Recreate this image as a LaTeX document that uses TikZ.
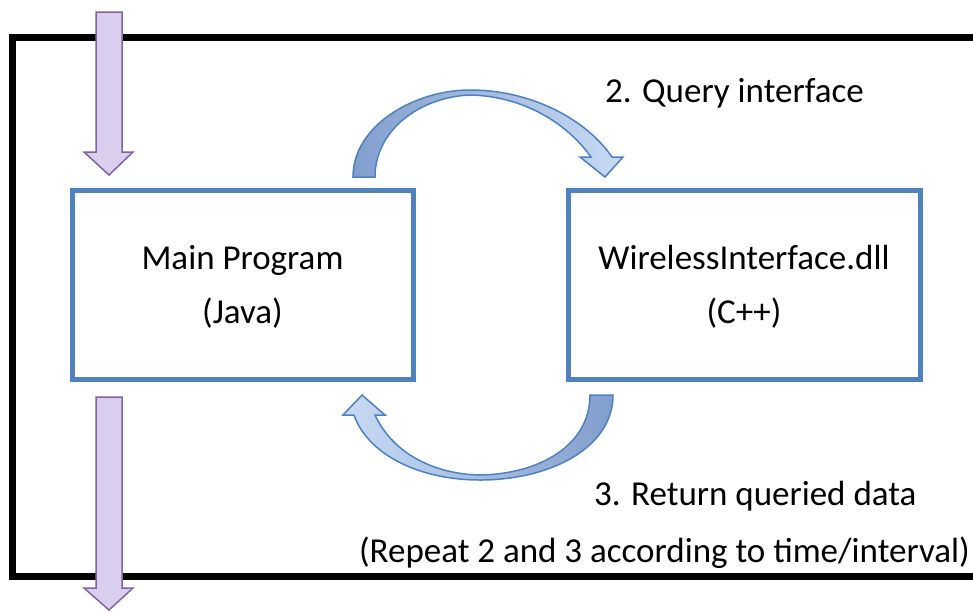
\documentclass[tikz,border=0pt]{standalone}
\usepackage{fontspec}
\setmainfont{Carlito}
\usepackage{xcolor}
\usetikzlibrary{arrows.meta, positioning, calc}

\definecolor{boxblue}{RGB}{79,129,189}
\definecolor{darkarc}{RGB}{130,158,205}
\definecolor{lightarc}{RGB}{200,219,245}
\definecolor{purpleline}{RGB}{128,100,162}
\definecolor{purplefill}{RGB}{218,206,238}

\begin{document}
\begin{tikzpicture}[
    x=0.5pt, y=-0.5pt,
    module/.style={rectangle, draw=boxblue, line width=2.5pt, fill=white, minimum height=94.5pt, text height=42pt, text depth=3.1pt, align=center, font=\fontsize{17.5}{27}\selectfont},
    caption/.style={anchor=west, font=\fontsize{17.5}{21}\selectfont},
    flow/.style={draw=purpleline, line width=0.75pt, fill=purplefill, line join=miter},
    callarc/.style={draw=boxblue, line width=0.75pt}
]
    \useasboundingbox (0,0) rectangle (973,612);
    \clip (0,0) rectangle (973,612);

    % outer frame
    \draw[line width=3.5pt] (1010,37) -- (12,37) -- (12,576) -- (1010,576);

    % modules
    \node[module, minimum width=170.5pt] (main) at (242.5,284.5) {Main Program\\(Java)};
    \node[module, minimum width=176pt] (dll) at (744,284.5) {WirelessInterface.dll\\(C++)};

    % query arc
    \path[callarc, left color=darkarc, right color=lightarc]
        (353,177) .. controls (353,125) and (415,90) .. (470,90)
        .. controls (530,90) and (585,118) .. (612,157)
        -- (623,157) -- (605,177) -- (580,157) -- (591,157)
        .. controls (566,122) and (522,96) .. (470,95)
        .. controls (420,97) and (375,130) .. (375,177) -- cycle;

    % return arc
    \path[callarc, left color=lightarc, right color=darkarc]
        (613,395) .. controls (613,448) and (550,480) .. (480,480)
        .. controls (420,480) and (368,455) .. (354,415)
        -- (343,415) -- (362,395) -- (385,415) -- (375,415)
        .. controls (392,452) and (432,474) .. (480,475)
        .. controls (540,474) and (590,445) .. (590,395) -- cycle;

    % in / out arrows
    \path[flow] (96,12) -- (122,12) -- (122,152) -- (133,152) -- (109,175) -- (84,152) -- (96,152) -- cycle;
    \path[flow] (96,397) -- (122,397) -- (122,588) -- (133,588) -- (109,610) -- (84,588) -- (96,588) -- cycle;

    % labels
    \node[caption] (query) at (598,93) {2. Query interface};
    \node[caption] (reply) at (587,496) {3. Return queried data};
    \node[caption] (repeat) at (352,553) {(Repeat 2 and 3 according to time/interval)};
\end{tikzpicture}
\end{document}
